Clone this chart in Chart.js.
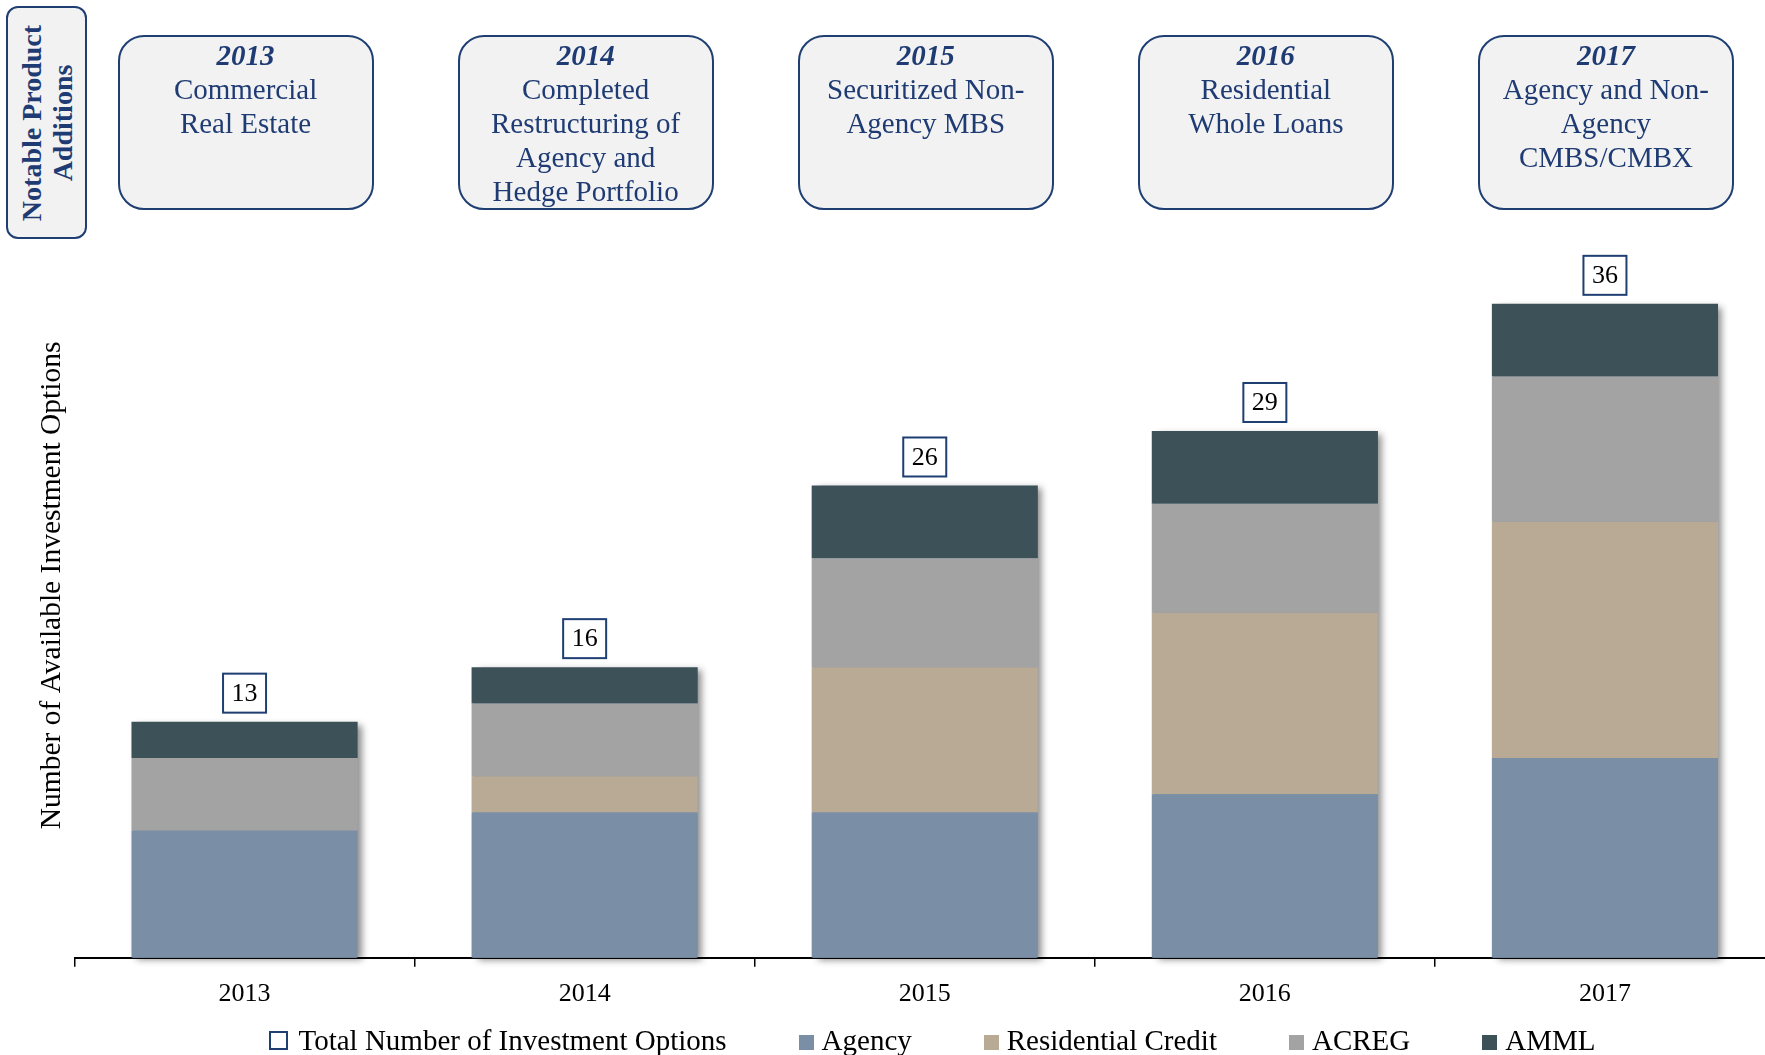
<!DOCTYPE html>
<html lang="en">
<head>
  <meta charset="UTF-8">
  <title>Number of Available Investment Options</title>
  <script src="https://cdn.jsdelivr.net/npm/chart.js"></script>
  <style>
    html, body {
      margin: 0;
      padding: 0;
      background: #fff;
      overflow: hidden;
      width: 1765px;
      height: 1055px;
    }

    body {
      position: relative;
      font-family: 'Liberation Serif', 'Times New Roman', serif;
    }

    #chart {
      position: absolute;
      left: 0;
      top: 0;
    }

    .side {
      position: absolute;
      left: 6px;
      top: 6px;
      width: 81px;
      height: 233px;
      box-sizing: border-box;
      border: 2px solid #1F3F73;
      border-radius: 12px;
      background: #F2F2F2;
    }

    .side span {
      position: absolute;
      left: 50%;
      top: 50%;
      transform: translate(-50%, -50%) rotate(-90deg);
      white-space: nowrap;
      text-align: center;
      font-weight: bold;
      font-size: 28px;
      line-height: 31px;
      color: #1F3B73;
    }

    .note {
      position: absolute;
      top: 35px;
      width: 256px;
      height: 175px;
      box-sizing: border-box;
      border: 2px solid #1F3F73;
      border-radius: 26px;
      background: #F2F2F2;
      text-align: center;
      color: #1F3B73;
      font-size: 29px;
      line-height: 34px;
      padding-top: 1px;
    }

    .note b {
      font-style: italic;
    }

    #legend {
      position: absolute;
      left: 0;
      width: 1864px;
      top: 1022px;
      display: flex;
      justify-content: center;
      align-items: center;
      font-size: 29px;
      line-height: 36px;
      color: #000;
      white-space: nowrap;
    }

    .item {
      display: flex;
      align-items: center;
      margin-right: 72px;
    }

    .item:last-child {
      margin-right: 0;
    }

    .swatch {
      width: 15px;
      height: 15px;
      margin-right: 8px;
      margin-top: 4px;
    }

    .swatch.hollow {
      width: 15px;
      height: 15px;
      border: 2px solid #1F3F73;
      background: #fff;
      margin-right: 11px;
      margin-top: 0;
    }
  </style>
</head>
<body>
  <canvas id="chart" width="1775" height="1055"></canvas>
  <div class="side"><span>Notable Product<br>Additions</span></div>
  <div id="notes"></div>
  <div id="legend"></div>

  <script>
    const categories = ['2013', '2014', '2015', '2016', '2017'];
    const agency = [7, 8, 8, 9, 11];
    const residentialCredit = [0, 2, 8, 10, 13];
    const acreg = [4, 4, 6, 6, 8];
    const amml = [2, 2, 4, 4, 4];

    const noteTexts = [
      ['Commercial', 'Real Estate'],
      ['Completed', 'Restructuring of', 'Agency and', 'Hedge Portfolio'],
      ['Securitized Non-', 'Agency MBS'],
      ['Residential', 'Whole Loans'],
      ['Agency and Non-', 'Agency', 'CMBS/CMBX']
    ];

    const navy = '#1F3F73';

    // shadow behind each stacked column + boxed totals on top
    const barDecor = {
      id: 'barDecor',
      beforeDatasetsDraw(chart) {
        const ctx = chart.ctx;
        const n = chart.data.datasets.length;
        const topMeta = chart.getDatasetMeta(n - 1);
        const bottomMeta = chart.getDatasetMeta(0);
        ctx.save();
        ctx.shadowColor = 'rgba(0,0,0,0.45)';
        ctx.shadowBlur = 7;
        ctx.shadowOffsetX = 5;
        ctx.shadowOffsetY = 2;
        ctx.fillStyle = '#7A8FA6';
        topMeta.data.forEach((bar, i) => {
          const p = bar.getProps(['x', 'y', 'width'], true);
          const base = bottomMeta.data[i].getProps(['base'], true).base;
          ctx.fillRect(p.x - p.width / 2 + 1, p.y + 1, p.width - 2, base - p.y - 1);
        });
        ctx.restore();
      },
      afterDatasetsDraw(chart) {
        const ctx = chart.ctx;
        const n = chart.data.datasets.length;
        const topMeta = chart.getDatasetMeta(n - 1);
        ctx.save();
        ctx.font = "26px 'Liberation Serif', serif";
        ctx.textAlign = 'center';
        ctx.textBaseline = 'middle';
        topMeta.data.forEach((bar, i) => {
          const total = chart.data.datasets.reduce((s, ds) => s + ds.data[i], 0);
          const p = bar.getProps(['x', 'y'], true);
          const txt = String(total);
          const w = ctx.measureText(txt).width + 17;
          const h = 39;
          const bx = p.x - w / 2;
          const by = p.y - 9 - h;
          ctx.fillStyle = '#fff';
          ctx.fillRect(bx, by, w, h);
          ctx.strokeStyle = navy;
          ctx.lineWidth = 2;
          ctx.strokeRect(bx, by, w, h);
          ctx.fillStyle = '#000';
          ctx.fillText(txt, p.x, by + h / 2 + 1);
        });
        ctx.restore();
      }
    };

    const ctx = document.getElementById('chart').getContext('2d');
    const chart = new Chart(ctx, {
      type: 'bar',
      data: {
        labels: categories,
        datasets: [
          { label: 'Agency', data: agency, backgroundColor: '#7A8FA6' },
          { label: 'Residential Credit', data: residentialCredit, backgroundColor: '#B8AA94' },
          { label: 'ACREG', data: acreg, backgroundColor: '#A3A3A3' },
          { label: 'AMML', data: amml, backgroundColor: '#3D5158' }
        ]
      },
      options: {
        responsive: false,
        animation: false,
        categoryPercentage: 1,
        barPercentage: 0.665,
        layout: { padding: { left: 33, top: 213, right: 0, bottom: 33 } },
        scales: {
          x: {
            stacked: true,
            grid: {
              display: true,
              drawOnChartArea: false,
              drawTicks: true,
              tickLength: 9,
              color: '#000',
              lineWidth: 1.5,
              offset: true
            },
            border: { display: true, color: '#000', width: 2 },
            ticks: {
              color: '#000',
              padding: 12,
              font: { family: "'Liberation Serif', serif", size: 26 }
            }
          },
          y: {
            stacked: true,
            min: 0,
            max: 41,
            grid: { display: false },
            border: { display: false },
            ticks: { display: false },
            title: {
              display: true,
              text: 'Number of Available Investment Options',
              color: '#000',
              padding: { top: 4, bottom: 0 },
              font: { family: "'Liberation Serif', serif", size: 29.5, lineHeight: 1 }
            }
          }
        },
        plugins: {
          tooltip: { enabled: false },
          legend: { display: false }
        }
      },
      plugins: [barDecor]
    });

    // product-addition boxes centred over each category
    const notes = document.getElementById('notes');
    categories.forEach((year, i) => {
      const div = document.createElement('div');
      div.className = 'note';
      div.style.left = (chart.scales.x.getPixelForValue(i) - 127) + 'px';
      div.innerHTML = '<b>' + year + '</b><br>' + noteTexts[i].join('<br>');
      notes.appendChild(div);
    });

    // legend: hollow "total" entry followed by the datasets
    const legend = document.getElementById('legend');
    const addItem = (text, color) => {
      const item = document.createElement('div');
      item.className = 'item';
      const sw = document.createElement('span');
      sw.className = color ? 'swatch' : 'swatch hollow';
      if (color) sw.style.background = color;
      const label = document.createElement('span');
      label.textContent = text;
      item.appendChild(sw);
      item.appendChild(label);
      legend.appendChild(item);
    };
    addItem('Total Number of Investment Options', null);
    chart.data.datasets.forEach(ds => addItem(ds.label, ds.backgroundColor));
  </script>
</body>
</html>
